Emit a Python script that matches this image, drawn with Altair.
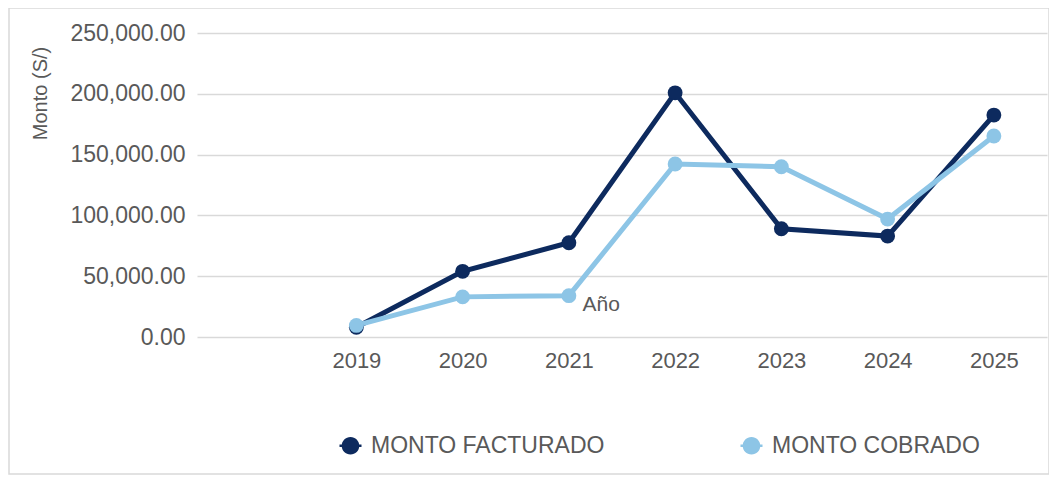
import altair as alt
import pandas as pd

years = ["2019", "2020", "2021", "2022", "2023", "2024", "2025"]
x_domain = [" "] + years
facturado = [8000, 54000, 77500, 200800, 89000, 83000, 182500]
cobrado = [9500, 33000, 34000, 142300, 140000, 97000, 165300]
series = ["MONTO FACTURADO", "MONTO COBRADO"]
colors = ["#0d2a5e", "#8dc5e6"]
y_ticks = [0, 50000, 100000, 150000, 200000, 250000]

rows = []
for s, vals in zip(series, [facturado, cobrado]):
    for y, v in zip(years, vals):
        rows.append({"Año": y, "Monto": v, "Serie": s})
df = pd.DataFrame(rows)

FONT = "Liberation Sans"
GRAY = "#595959"

x_enc = alt.X(
    "Año:N",
    scale=alt.Scale(domain=x_domain, type="point", padding=0.5),
    sort=x_domain,
    axis=alt.Axis(
        title="Año", titleX=385, titleY=-27, titleAlign="left", titleBaseline="alphabetic",
        titleFontSize=21, titleFontWeight="normal", titleColor=GRAY, titleFont=FONT,
        labelFontSize=22, labelColor=GRAY, labelFont=FONT, labelPadding=13,
        labelAngle=0, ticks=False, domain=False, grid=False,
    ),
)
y_enc = alt.Y(
    "Monto:Q",
    scale=alt.Scale(domain=[0, 250000], nice=False),
    axis=alt.Axis(
        values=y_ticks, format=",.2f", title="Monto (S/)",
        titleX=-157, titleY=60, titleAngle=-90, titleAlign="center", titleBaseline="middle",
        titleFontSize=20, titleFontWeight="normal", titleColor=GRAY, titleFont=FONT,
        labelFontSize=23, labelColor=GRAY, labelFont=FONT, labelPadding=12,
        ticks=False, domain=False, grid=True, gridColor="#d9d9d9", gridWidth=1.5,
    ),
)

legend_symbol = "M-1,-0.12 L1,-0.12 L1,0.12 L-1,0.12 Z M0.8,0 A0.8,0.8 0 1,1 -0.8,0 A0.8,0.8 0 1,1 0.8,0 Z"

main = alt.Chart(df).mark_line(
    strokeWidth=5, point=alt.OverlayMarkDef(filled=True, size=220, opacity=1)
).encode(
    x=x_enc, y=y_enc,
    color=alt.Color(
        "Serie:N", scale=alt.Scale(domain=series, range=colors), sort=series,
        legend=alt.Legend(
            title=None, orient="none", direction="horizontal", legendX=142, legendY=401,
            symbolType=legend_symbol, symbolSize=484, symbolStrokeWidth=0,
            labelFontSize=23, labelColor=GRAY, labelFont=FONT, labelOffset=9,
            columnPadding=135, labelLimit=400,
        ),
    ),
)

frame = alt.Chart(pd.DataFrame({"k": [0]})).mark_rect(
    fillOpacity=0, stroke="#d9d9d9", strokeWidth=1.5, clip=False
).encode(
    x=alt.value(-188), x2=alt.value(852), y=alt.value(-25), y2=alt.value(441)
)

chart = alt.layer(main, frame).properties(
    width=850, height=304,
    autosize=alt.AutoSizeParams(type="none"),
    padding={"left": 189, "top": 25, "right": 2, "bottom": 138},
).configure_view(stroke=None)

chart.save("out.html", embed_options={"renderer": "svg", "actions": False})
